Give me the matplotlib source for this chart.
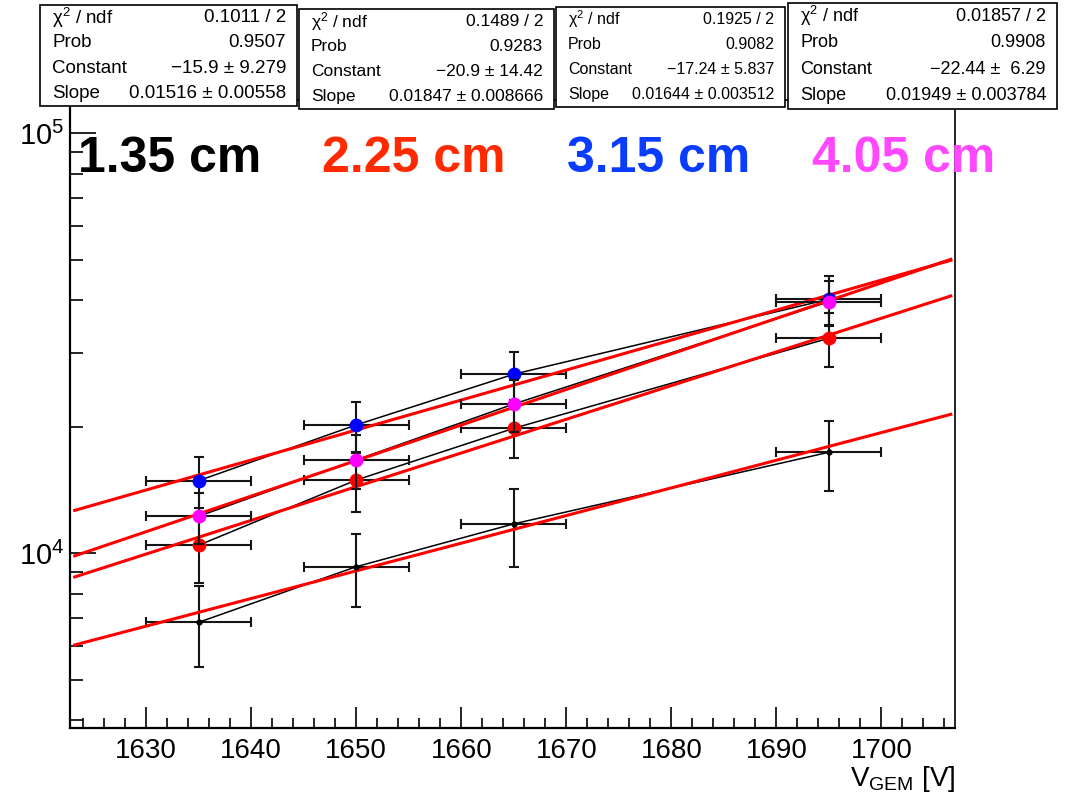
import matplotlib
matplotlib.use("Agg")
import matplotlib.pyplot as plt
from matplotlib.patches import Rectangle
from matplotlib.ticker import LogLocator, MultipleLocator, LogFormatterMathtext, NullFormatter
import numpy as np

plt.rcParams['font.family'] = ['Liberation Sans', 'DejaVu Sans']
plt.rcParams['mathtext.fontset'] = 'custom'
plt.rcParams['mathtext.rm'] = 'Liberation Sans'
plt.rcParams['mathtext.it'] = 'Liberation Sans:italic'
plt.rcParams['mathtext.bf'] = 'Liberation Sans:bold'

# GEM voltage scan, effective gain for four drift gaps
voltage = [1635, 1650, 1665, 1695]
volt_err = [5, 5, 5, 5]

gain_135 = [6850, 9290, 11750, 17400]
err_135 = [1500, 1850, 2480, 3300]
gain_225 = [10450, 14940, 19840, 32510]
err_225 = [1940, 2380, 2950, 4740]
gain_315 = [14890, 20210, 26690, 40260]
err_315 = [2100, 2750, 3510, 5450]
gain_405 = [12250, 16680, 22670, 39720]
err_405 = [1700, 2450, 3200, 4840]

labels = ["1.35 cm", "2.25 cm", "3.15 cm", "4.05 cm"]
label_colors = ["black", "#ff2a00", "#0a3cff", "#ff48ff"]
marker_colors = ["black", "#ff0000", "#0000ff", "#ff00ff"]

# expo fit results: exp(Constant + Slope*x)
fit_const = [-15.9, -20.9, -17.24, -22.44]
fit_slope = [0.01516, 0.01847, 0.01644, 0.01949]
fit_range = (1623.2, 1706.6)

stat_chi2 = ["0.1011 / 2", "0.1489 / 2", "0.1925 / 2", "0.01857 / 2"]
stat_prob = ["0.9507", "0.9283", "0.9082", "0.9908"]
stat_const = ["\u221215.9 \u00b1 9.279", "\u221220.9 \u00b1 14.42", "\u221217.24 \u00b1 5.837", "\u221222.44 \u00b1  6.29"]
stat_slope = ["0.01516 \u00b1 0.00558", "0.01847 \u00b1 0.008666", "0.01644 \u00b1 0.003512", "0.01949 \u00b1 0.003784"]

W, H = 1068, 795
fig = plt.figure(figsize=(W / 100, H / 100), dpi=100)
ax = fig.add_axes([70 / W, 67 / H, 885 / W, 628 / H])

gains = [gain_135, gain_225, gain_315, gain_405]
errs = [err_135, err_225, err_315, err_405]
xf = np.linspace(fit_range[0], fit_range[1], 200)

for i in range(4):
    ax.errorbar(voltage, gains[i], xerr=volt_err, yerr=errs[i], fmt='none',
                ecolor='#151515', elinewidth=1.5, capsize=3.5, capthick=1.5, zorder=2 + i)
    ax.plot(voltage, gains[i], color='black', lw=1.1, zorder=2 + i)
    ax.plot(xf, np.exp(fit_const[i] + fit_slope[i] * xf), color='#ff0000', lw=2.2, zorder=2 + i)
    if i == 0:
        ax.plot(voltage, gains[i], 'o', color='black', ms=3.5, zorder=2 + i)
    else:
        ax.plot(voltage, gains[i], 'o', color=marker_colors[i], ms=10, mec='none', zorder=2 + i)

ax.set_yscale('log')
ax.set_xlim(1622.75, 1707.0)
ax.set_ylim(3837, 120000)

ax.xaxis.set_major_locator(MultipleLocator(10))
ax.xaxis.set_minor_locator(MultipleLocator(2))
ax.yaxis.set_major_locator(LogLocator(base=10))
ax.yaxis.set_major_formatter(LogFormatterMathtext())
ax.yaxis.set_minor_locator(LogLocator(base=10, subs=np.arange(2, 10)))
ax.yaxis.set_minor_formatter(NullFormatter())

ax.tick_params(axis='x', which='major', direction='in', length=15, width=1.2, labelsize=20, pad=7,
               top=False)
ax.tick_params(axis='x', which='minor', direction='in', length=7.2, width=1.2, top=False)
ax.tick_params(axis='y', which='major', direction='in', length=19, width=1.2, labelsize=21, pad=4,
               right=False)
ax.tick_params(axis='y', which='minor', direction='in', length=9.4, width=1.2, right=False)

for side in ['left', 'bottom']:
    ax.spines[side].set_linewidth(1.6)
ax.spines['right'].set_linewidth(1.2)
ax.spines['top'].set_linewidth(1.2)

ax.set_xlabel(r'V$_{\mathrm{GEM}}$ [V]', fontsize=20, loc='right')
ax.xaxis.set_label_coords(1.0, -0.058)

# gap labels
for lab, col, x in zip(labels, label_colors, [78, 322, 567, 812]):
    fig.text(x / W, 1 - 172 / H, lab, fontsize=36, fontweight='bold', color=col,
             ha='left', va='baseline')

# fit statistics boxes (pixel extents: left, top, right, bottom)
boxes = [(40, 5, 297, 106), (299, 9, 554, 109), (556, 7, 785, 107), (788, 3, 1057, 109)]
box_font = [13.5, 12.5, 11.5, 13]
for i, (l, t, r, b) in enumerate(boxes):
    fig.add_artist(Rectangle((l / W, 1 - b / H), (r - l) / W, (b - t) / H,
                             transform=fig.transFigure, facecolor='white',
                             edgecolor='black', lw=1.2, zorder=5))
    rows = [("\u03c7$^{2}$ / ndf", stat_chi2[i]), ("Prob", stat_prob[i]),
            ("Constant", stat_const[i]), ("Slope", stat_slope[i])]
    step = (b - t) / 4
    for k, (name, val) in enumerate(rows):
        yc = t + step * (k + 0.5)
        fig.text((l + 12) / W, 1 - yc / H, name, fontsize=box_font[i], ha='left', va='center', zorder=6)
        fig.text((r - 11) / W, 1 - yc / H, val, fontsize=box_font[i], ha='right', va='center', zorder=6)

fig.savefig("out.png", dpi=100)
